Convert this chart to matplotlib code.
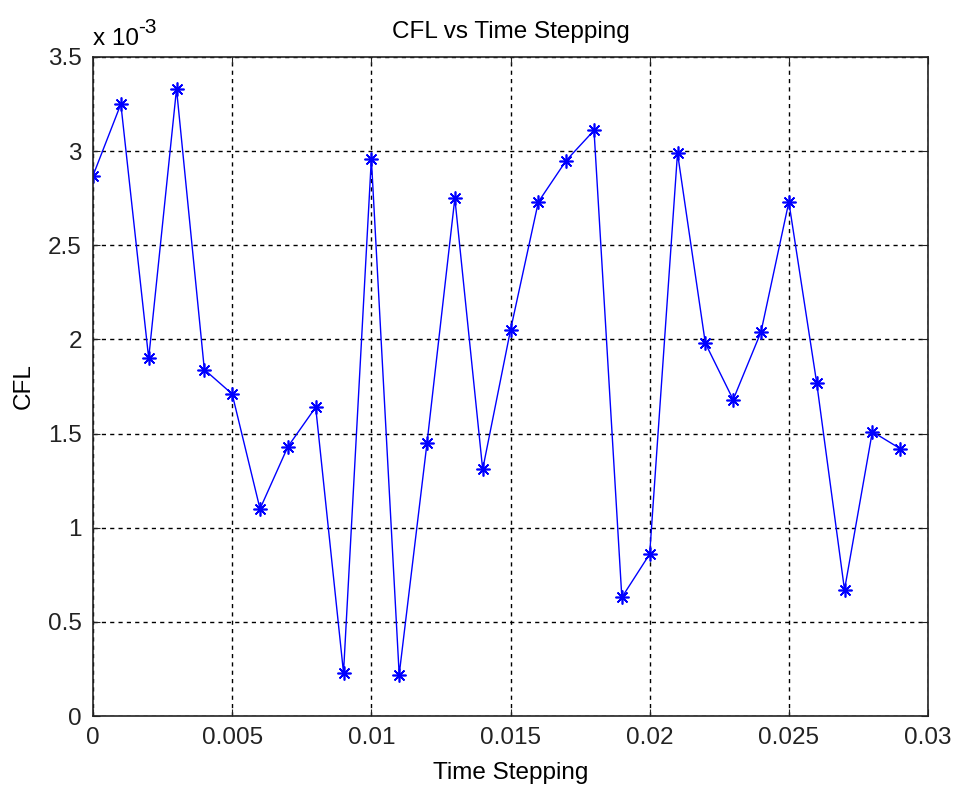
import numpy as np
import matplotlib.pyplot as plt
from matplotlib.ticker import FuncFormatter

plt.rcParams['font.family'] = ['Liberation Sans', 'DejaVu Sans']

# time steps and CFL values (units of 1e-3)
time_step = np.arange(30) * 0.001
cfl_e3 = [2.87, 3.25, 1.90, 3.33, 1.84, 1.71, 1.10, 1.43, 1.64, 0.23,
          2.96, 0.22, 1.45, 2.75, 1.31, 2.05, 2.73, 2.95, 3.11, 0.63,
          0.86, 2.99, 1.98, 1.68, 2.04, 2.73, 1.77, 0.67, 1.51, 1.42]
cfl = np.array(cfl_e3) * 1e-3

xticks = [0, 0.005, 0.01, 0.015, 0.02, 0.025, 0.03]
yticks = np.arange(0, 3.51, 0.5) * 1e-3

fs = 17.5
fig = plt.figure(figsize=(9.57, 7.87), dpi=100)
ax = fig.add_axes([0.0972, 0.0902, 0.8725, 0.8374])

# asterisk marker: 8 spokes
ax.plot(time_step, cfl, color='blue', lw=1, marker=(8, 2, 0), markersize=10,
        markeredgewidth=1.2)

ax.set_xlim(0, 0.03)
ax.set_ylim(0, 3.5e-3)
ax.set_xticks(xticks)
ax.set_yticks(yticks)
ax.xaxis.set_major_formatter(FuncFormatter(lambda v, p: f'{v:g}'))
ax.yaxis.set_major_formatter(FuncFormatter(lambda v, p: f'{round(v * 1e3, 2):g}'))

ax.grid(True, color='black', linestyle=(0, (3, 3)), lw=1)
ax.tick_params(direction='in', top=True, right=True, length=5,
               labelsize=fs, colors='#222222', pad=8)
for s in ax.spines.values():
    s.set_linewidth(1.2)
    s.set_color('#222222')

ax.set_title('CFL vs Time Stepping', fontsize=fs, pad=14)
ax.set_xlabel('Time Stepping', fontsize=fs, labelpad=9)
ax.set_ylabel('CFL', fontsize=fs)
ax.yaxis.set_label_coords(-0.07, 0.5)

# exponent label above the y axis
ax.annotate('x 10', xy=(0, 1), xycoords='axes fraction', xytext=(0, 8.6),
            textcoords='offset points', fontsize=fs, va='baseline')
ax.annotate('-3', xy=(0, 1), xycoords='axes fraction', xytext=(32.5, 17),
            textcoords='offset points', fontsize=15, va='baseline')

fig.savefig('out.png', dpi=100)
